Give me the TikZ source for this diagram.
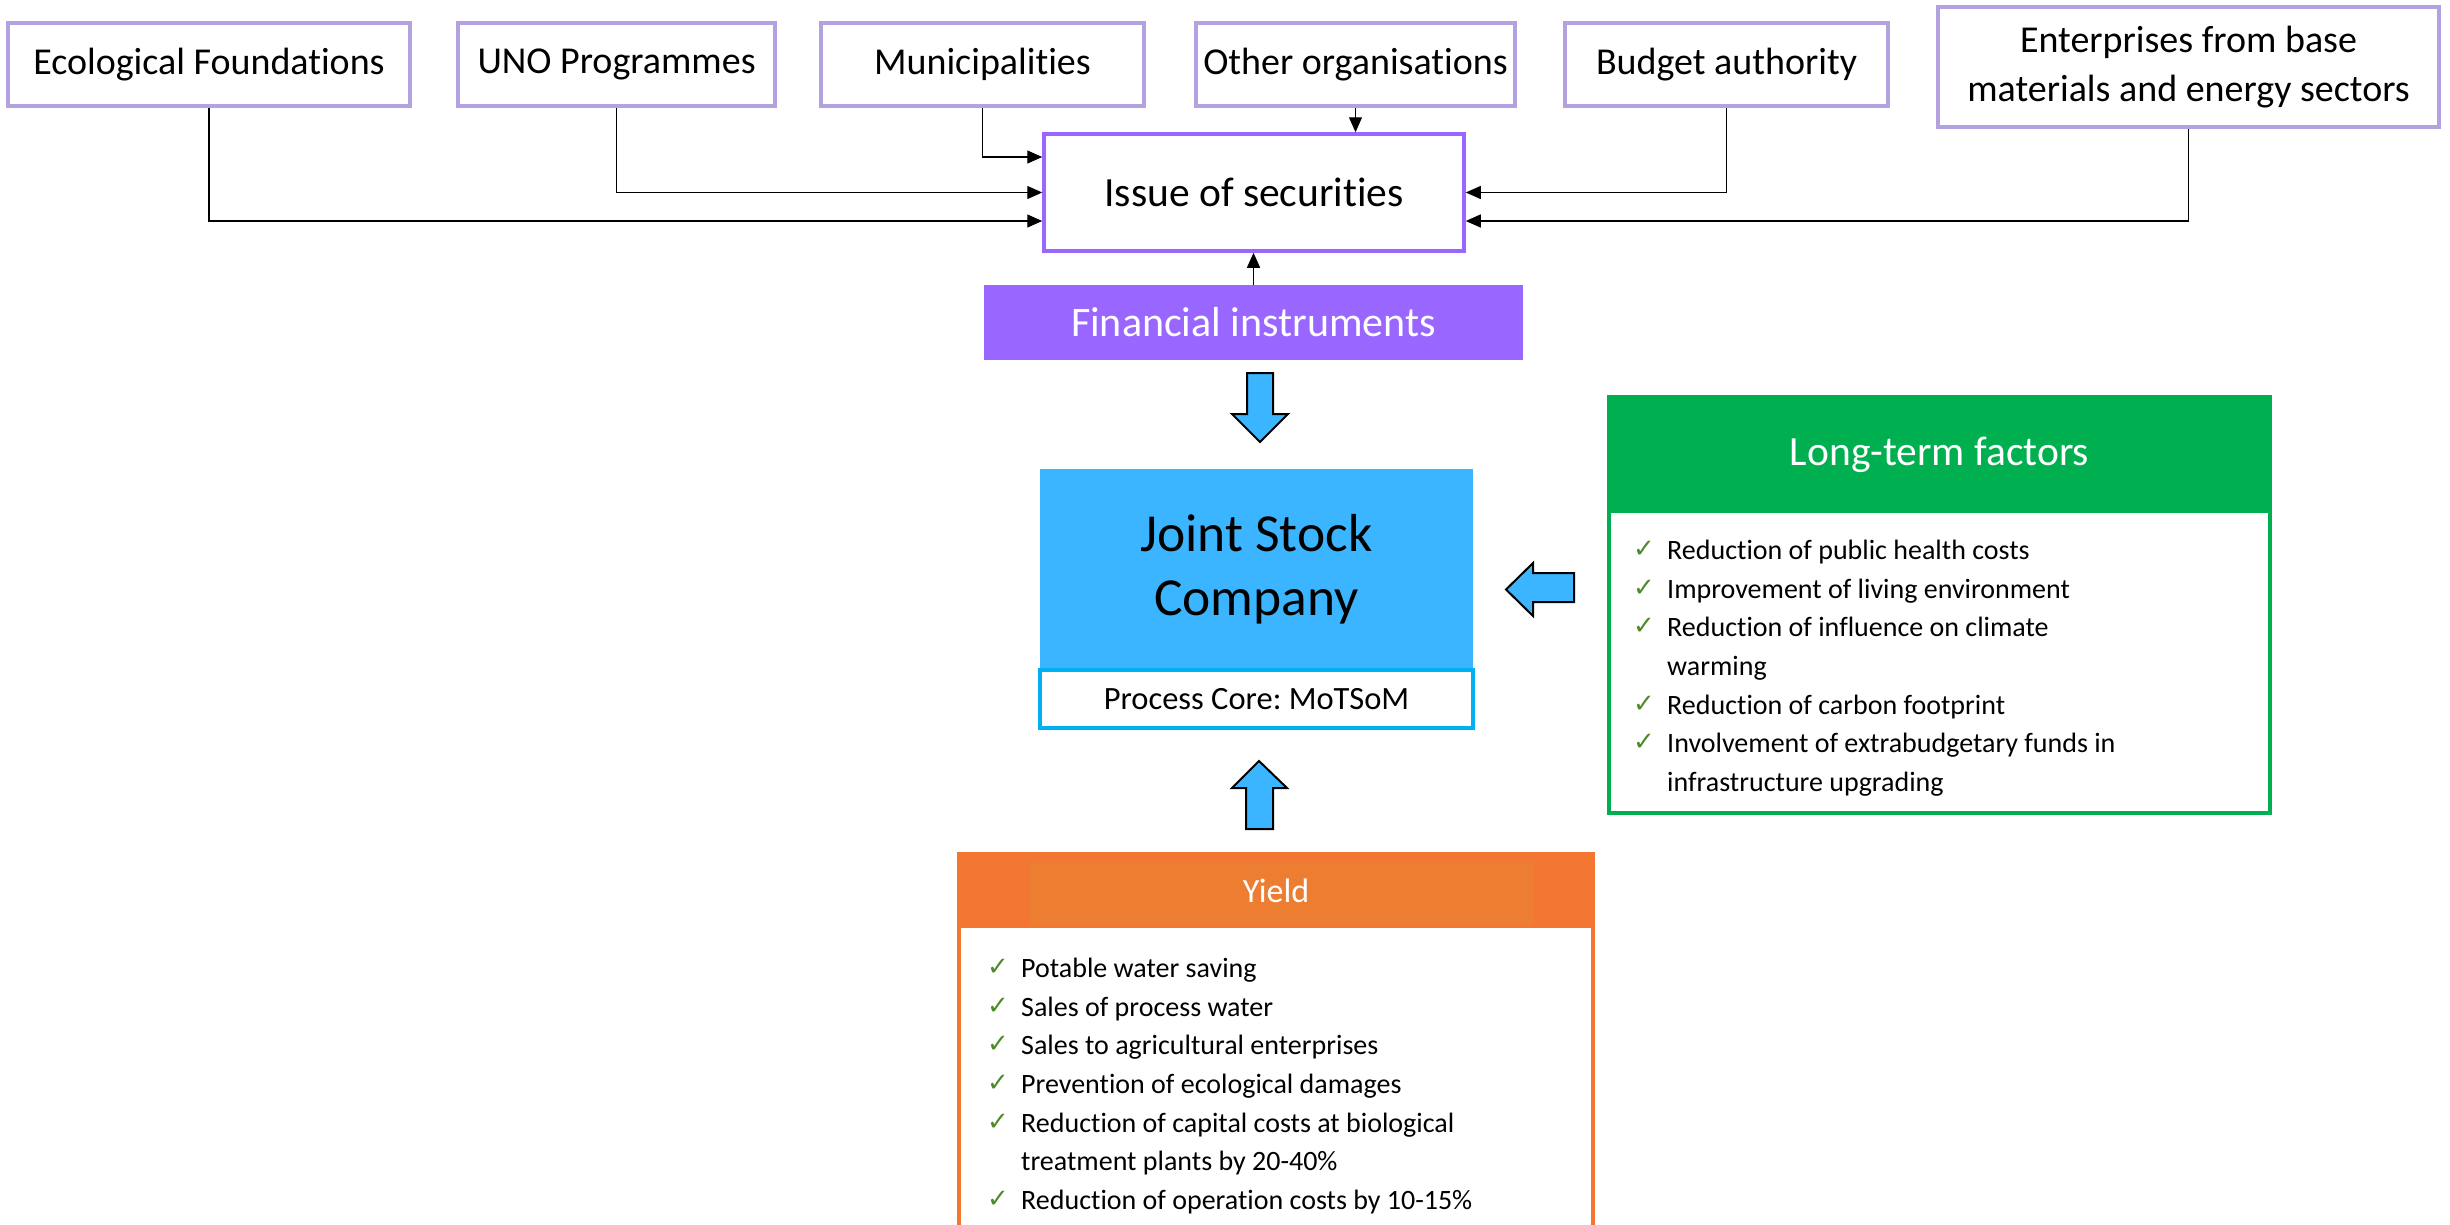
\documentclass[tikz,border=0pt]{standalone}
\usepackage{fontspec}
\setmainfont{Carlito}[Ligatures={NoCommon}]
\newfontfamily\symfont{DejaVu Sans}
\usepackage{xcolor}
\usetikzlibrary{arrows.meta}
\frenchspacing

\definecolor{lavender}{HTML}{B4A2E0}
\definecolor{violet}{HTML}{9966FF}
\definecolor{skyblue}{HTML}{3BB5FF}
\definecolor{coreblue}{HTML}{00B0F0}
\definecolor{leafgreen}{HTML}{00B050}
\definecolor{ticgreen}{HTML}{4E8A2A}
\definecolor{orangeA}{HTML}{F37733}
\definecolor{orangeB}{HTML}{ED7D31}

\newcommand{\tic}{\makebox[34pt][l]{\raisebox{2pt}{\color{ticgreen}\fontsize{26}{26}\symfont ✓}}}

\begin{document}
\begin{tikzpicture}[x=1pt, y=-1pt,
    topbox/.style={draw=lavender, line width=3.5pt, fill=white, minimum height=83pt,
      inner sep=0pt, align=center, font=\fontsize{38}{49}\selectfont},
    link/.style={line width=1.3pt, -{Triangle[length=15pt, width=13pt]}},
    headbox/.style={inner sep=0pt, text=white},
    blockarrow/.style={fill=skyblue, draw=black, line width=2pt, line join=miter},
    listbox/.style={anchor=north west, inner sep=0pt, font=\fontsize{28}{38.7}\selectfont}]
  \useasboundingbox (0,0) rectangle (2450,1224);
  \clip (0,0) rectangle (2450,1224);

  % sources of the securities
  \node[topbox, minimum width=402pt] (eco) at (209,64.5) {Ecological Foundations};
  \node[topbox, minimum width=317pt] (uno) at (616.5,64.5) {UNO Programmes};
  \node[topbox, minimum width=323pt] (muni) at (982.5,64.5) {Municipalities};
  \node[topbox, minimum width=319pt] (other) at (1355.5,64.5) {Other organisations};
  \node[topbox, minimum width=323pt] (budget) at (1726.5,64.5) {Budget authority};
  \node[topbox, minimum width=501pt, minimum height=120pt] (enter) at (2188.5,67)
    {Enterprises from base\\materials and energy sectors};

  \node[draw=violet, line width=3.5pt, minimum width=420pt, minimum height=117pt,
    font=\fontsize{41.5}{48}\selectfont] (issue) at (1254,192.5) {Issue of securities};
  \node[headbox, fill=violet, minimum width=539pt, minimum height=75pt,
    font=\fontsize{42}{50}\selectfont] (fin) at (1253.5,322.5) {Financial instruments};

  \draw[link] (eco.south) |- ([yshift=-28.5pt]issue.west);
  \draw[link] (uno.south) |- (issue.west);
  \draw[link] (muni.south) |- ([yshift=35.5pt]issue.west);
  \draw[link] (other.south) -- (other.south |- issue.north);
  \draw[link] (budget.south) |- (issue.east);
  \draw[link] (enter.south) |- ([yshift=-28.5pt]issue.east);
  \draw[link] (fin.north) -- (fin.north |- issue.south);

  % company
  \node[fill=skyblue, minimum width=433pt, minimum height=201pt, align=center,
    font=\fontsize{53.5}{64}\selectfont] (jsc) at (1256.5,569.5) {Joint Stock\\Company};
  \node[draw=coreblue, fill=white, line width=3.5pt, minimum width=433pt, minimum height=58pt,
    font=\fontsize{32.5}{38}\selectfont] (core) at (1256.5,699) {Process Core: MoTSoM};

  \draw[blockarrow] (1247,373) -- (1273,373) -- (1273,414) -- (1288,414) -- (1260,442)
    -- (1232,414) -- (1247,414) -- cycle;
  \draw[blockarrow] (1246,829) -- (1273,829) -- (1273,788) -- (1287,788) -- (1259,761)
    -- (1232,788) -- (1246,788) -- cycle;
  \draw[blockarrow] (1574,573) -- (1574,602) -- (1533,602) -- (1533,616) -- (1506,589.5)
    -- (1533,563) -- (1533,573) -- cycle;

  % long-term factors
  \draw[leafgreen, line width=4pt] (1609,397) rectangle (2270,813);
  \node[headbox, fill=leafgreen, minimum width=661pt, minimum height=116pt,
    font=\fontsize{41.5}{48}\selectfont] (longhead) at (1939.5,455) {Long-term factors};
  \node[listbox] (longlist) at (1633,532) {%
    \begin{tabular}{@{}l@{}l@{}}
      \tic & Reduction of public health costs\\
      \tic & Improvement of living environment\\
      \tic & Reduction of influence on climate\\
           & warming\\
      \tic & Reduction of carbon footprint\\
      \tic & Involvement of extrabudgetary funds in\\
           & infrastructure upgrading
    \end{tabular}};

  % yield
  \draw[orangeA, line width=3.5pt] (959,854) rectangle (1593,1240);
  \node[headbox, fill=orangeA, minimum width=634pt, minimum height=74pt] (yieldhead) at (1276,891) {};
  \fill[orangeB] (1030,862) rectangle (1534,925);
  \node[headbox, font=\fontsize{34}{40}\selectfont] (yieldtext) at (yieldhead) {Yield};
  \node[listbox] (yieldlist) at (987,950) {%
    \begin{tabular}{@{}l@{}l@{}}
      \tic & Potable water saving\\
      \tic & Sales of process water\\
      \tic & Sales to agricultural enterprises\\
      \tic & Prevention of ecological damages\\
      \tic & Reduction of capital costs at biological\\
           & treatment plants by 20-40\%\\
      \tic & Reduction of operation costs by 10-15\%
    \end{tabular}};
\end{tikzpicture}
\end{document}
